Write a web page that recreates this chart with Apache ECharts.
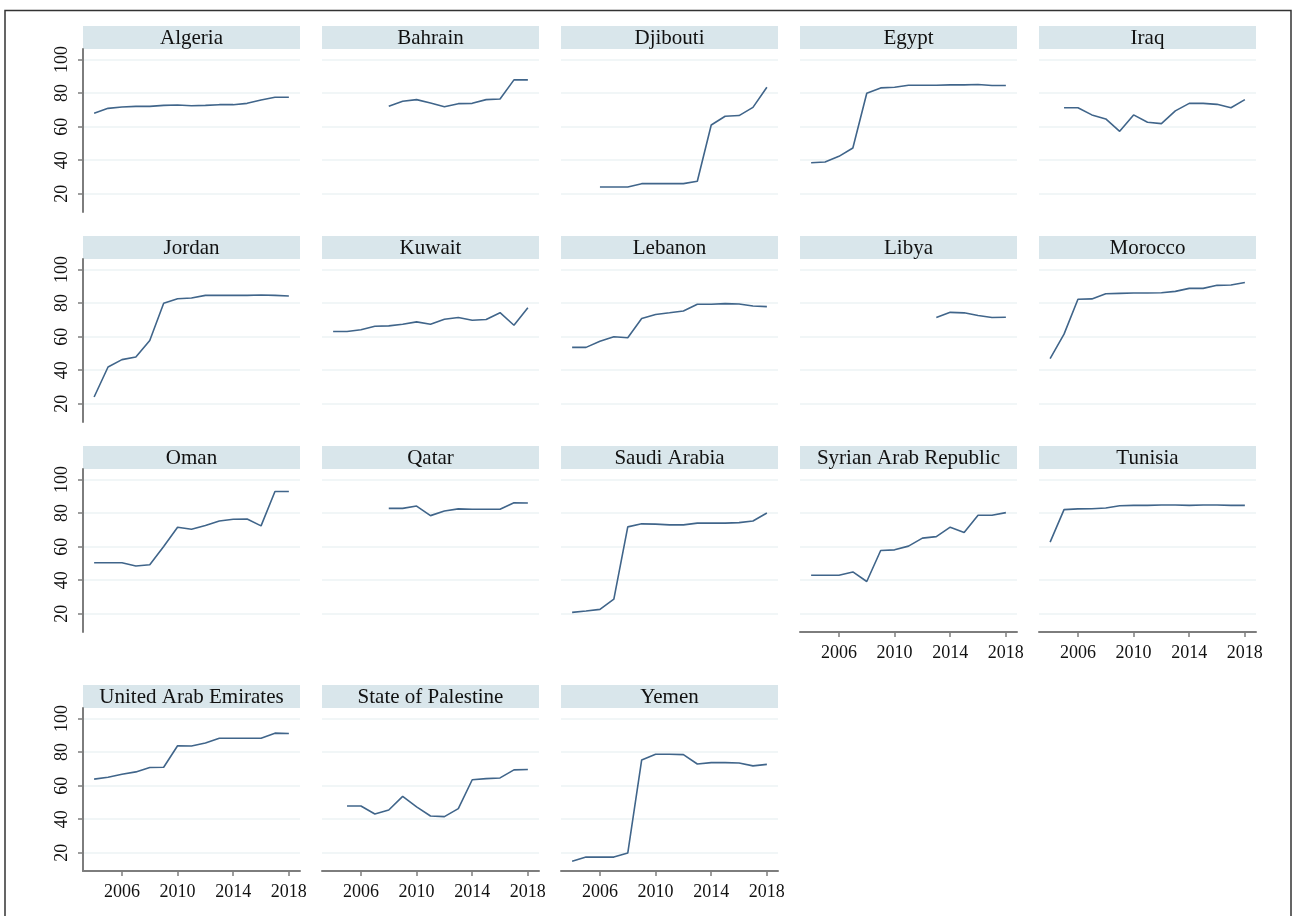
<!DOCTYPE html>
<html>
<head>
<meta charset="utf-8">
<script src="https://cdn.jsdelivr.net/npm/echarts@6/dist/echarts.min.js"></script>
<style>
  html, body { margin: 0; background: #fff; }
  #main { width: 1293px; height: 916px; }
</style>
</head>
<body>
<div id="main"></div>
<script>
// years and tick labels
const years = [2004, 2005, 2006, 2007, 2008, 2009, 2010, 2011, 2012, 2013, 2014, 2015, 2016, 2017, 2018];
const xTicks = [2006, 2010, 2014, 2018];
const yTicks = [20, 40, 60, 80, 100];

const countries = ['Algeria', 'Bahrain', 'Djibouti', 'Egypt', 'Iraq',
  'Jordan', 'Kuwait', 'Lebanon', 'Libya', 'Morocco',
  'Oman', 'Qatar', 'Saudi Arabia', 'Syrian Arab Republic', 'Tunisia',
  'United Arab Emirates', 'State of Palestine', 'Yemen']

// values per country, 2004..2018 (null = no data)
const algeria = [68.0, 70.9, 71.7, 72.1, 72.1, 72.7, 72.9, 72.5, 72.7, 73.1, 73.1, 73.9, 75.9, 77.5, 77.5]
const bahrain = [null, null, null, null, 72.1, 75.1, 76.1, 74.1, 71.9, 73.7, 73.9, 76.1, 76.5, 87.9, 87.9]
const djibouti = [null, null, 24.0, 24.0, 24.0, 26.0, 26.0, 26.0, 26.0, 27.4, 61.0, 66.2, 66.6, 71.5, 83.5]
const egypt = [38.5, 38.9, 42.3, 47.3, 79.9, 83.1, 83.5, 84.7, 84.7, 84.7, 84.9, 84.9, 85.1, 84.5, 84.5]
const iraq = [null, 71.3, 71.3, 67.0, 64.6, 57.2, 67.0, 62.6, 61.8, 69.4, 73.9, 73.9, 73.3, 71.3, 76.1]
const jordan = [24.0, 41.9, 46.3, 47.9, 57.7, 79.9, 82.6, 83.0, 84.6, 84.6, 84.6, 84.6, 84.8, 84.6, 84.2]
const kuwait = [63.1, 63.1, 64.1, 66.2, 66.4, 67.4, 68.8, 67.4, 70.4, 71.4, 69.8, 70.2, 74.3, 66.8, 77.3]
const lebanon = [53.6, 53.6, 57.2, 59.9, 59.3, 70.8, 73.2, 74.2, 75.3, 79.3, 79.3, 79.7, 79.5, 78.3, 77.9]
const libya = [null, null, null, null, null, null, null, null, null, 71.4, 74.5, 74.2, 72.6, 71.4, 71.6]
const morocco = [46.9, 61.5, 82.3, 82.5, 85.6, 85.8, 86.0, 86.0, 86.2, 87.0, 88.8, 88.8, 90.6, 90.8, 92.3]
const oman = [50.4, 50.4, 50.4, 48.5, 49.2, 60.1, 71.6, 70.4, 72.6, 75.3, 76.3, 76.5, 72.4, 92.9, 92.9]
const qatar = [null, null, null, null, 82.8, 82.8, 84.2, 78.5, 81.3, 82.5, 82.3, 82.3, 82.3, 86.2, 86.0]
const saudiArabia = [20.8, 21.6, 22.6, 28.7, 71.8, 73.6, 73.4, 73.0, 73.0, 74.0, 74.0, 74.0, 74.3, 75.3, 80.1]
const syria = [42.9, 42.9, 42.9, 44.9, 39.2, 57.7, 58.1, 60.3, 65.1, 66.0, 71.6, 68.4, 78.7, 78.7, 80.3]
const tunisia = [62.7, 82.1, 82.5, 82.6, 83.0, 84.4, 84.6, 84.6, 84.8, 84.8, 84.6, 84.8, 84.8, 84.6, 84.6]
const uae = [63.9, 65.0, 66.8, 68.2, 70.8, 71.0, 83.8, 83.6, 85.4, 88.3, 88.3, 88.3, 88.3, 91.3, 91.1]
const palestine = [null, 47.9, 47.9, 43.1, 45.5, 53.6, 47.3, 41.9, 41.5, 46.3, 63.5, 64.2, 64.6, 69.4, 69.6]
const yemen = [14.9, 17.4, 17.4, 17.4, 19.8, 75.3, 78.7, 78.7, 78.5, 72.9, 73.7, 73.7, 73.5, 71.8, 72.7]

const values = [algeria, bahrain, djibouti, egypt, iraq, jordan, kuwait, lebanon, libya, morocco,
  oman, qatar, saudiArabia, syria, tunisia, uae, palestine, yemen]

// layout of the panel grid
const colLeft = [83, 322, 561, 800, 1039]
const rowTop = [26, 236, 446, 685]
const plotW = 217
const stripH = 23
const plotH = 163
const font = 'Liberation Serif'
const lineColor = '#40658a'
const axisColor = '#7d7d7d'
const gridColor = '#edf3f5'
const stripColor = '#d9e6eb'

const grids = []
const xAxes = []
const yAxes = []
const series = []
const graphics = [{
  type: 'rect',
  shape: { x: 5, y: 10.5, width: 1286, height: 930 },
  style: { fill: 'none', stroke: '#333', lineWidth: 1.5 },
  silent: true,
}]

countries.forEach((name, i) => {
  const row = Math.floor(i / 5)
  const col = i % 5
  const left = colLeft[col]
  const top = rowTop[row]
  const hasX = i >= 13
  const hasY = col === 0

  // strip header
  graphics.push({
    type: 'rect',
    shape: { x: left, y: top, width: plotW, height: stripH },
    style: { fill: stripColor },
    silent: true,
  })
  graphics.push({
    type: 'text',
    x: left + plotW / 2,
    y: top + stripH / 2 + 1,
    style: {
      text: name,
      font: `21px "${font}"`,
      fill: '#111',
      align: 'center',
      verticalAlign: 'middle',
    },
    silent: true,
  })

  grids.push({ left, top: top + stripH, width: plotW, height: plotH })

  xAxes.push({
    gridIndex: i,
    type: 'value',
    min: 2003.2,
    max: 2018.8,
    axisLine: { show: hasX, onZero: false, lineStyle: { color: axisColor, width: 2 } },
    axisTick: { show: hasX, length: 5, customValues: xTicks, lineStyle: { color: axisColor, width: 1.5 } },
    axisLabel: {
      show: hasX,
      customValues: xTicks,
      formatter: v => String(v),
      margin: 12,
      color: '#111',
      fontFamily: font,
      fontSize: 18,
    },
    splitLine: { show: false },
  })

  yAxes.push({
    gridIndex: i,
    type: 'value',
    min: 9.1,
    max: 106.3,
    axisLine: { show: hasY, lineStyle: { color: axisColor, width: 2 } },
    axisTick: { show: hasY, length: 5, customValues: yTicks, lineStyle: { color: axisColor, width: 1.5 } },
    axisLabel: { show: hasY, customValues: yTicks, rotate: 90, margin: 12, color: '#111', fontFamily: font, fontSize: 18 },
    splitLine: { show: true, lineStyle: { color: gridColor, width: 1.5 } },
  })

  series.push({
    type: 'line',
    name,
    xAxisIndex: i,
    yAxisIndex: i,
    data: years.map((y, k) => [y, values[i][k]]),
    showSymbol: false,
    connectNulls: false,
    lineStyle: { color: lineColor, width: 1.6 },
    animation: false,
  })
})

const chart = echarts.init(document.getElementById('main'))
chart.setOption({
  backgroundColor: '#fff',
  animation: false,
  grid: grids,
  xAxis: xAxes,
  yAxis: yAxes,
  series,
  graphic: graphics,
})
</script>
</body>
</html>
